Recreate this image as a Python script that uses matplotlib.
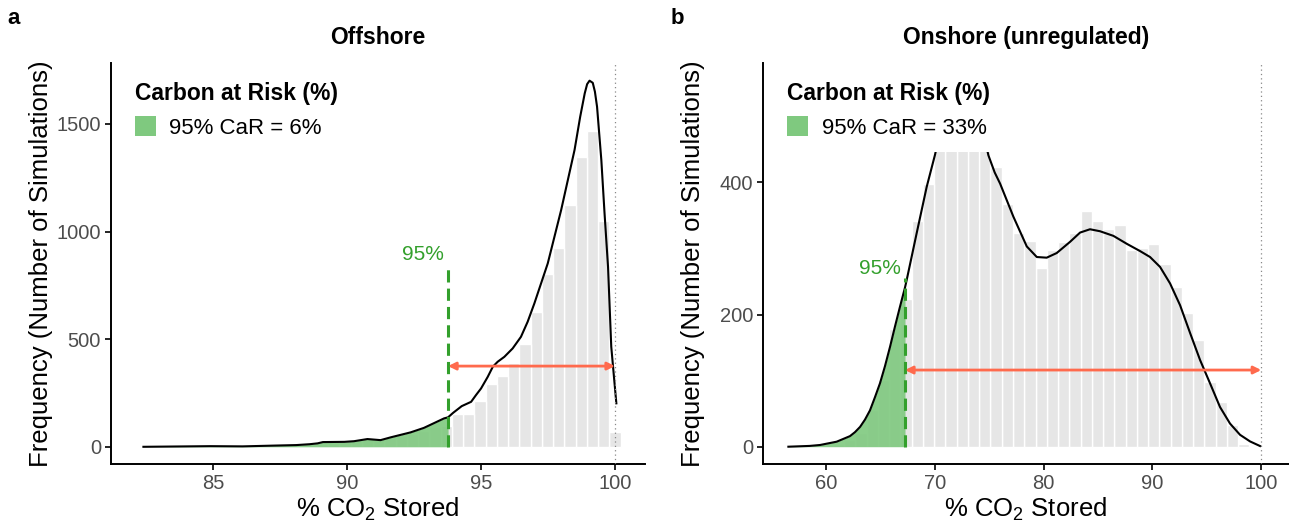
import numpy as np
import matplotlib.pyplot as plt
from matplotlib.patches import Patch

plt.rcParams['font.family'] = ['Liberation Sans', 'DejaVu Sans']
plt.rcParams['mathtext.default'] = 'regular'

# ---- offshore (panel a) ----
off_binw = 0.42
off_centers = 100 - off_binw * np.arange(43)
off_counts = [70, 1049, 1468, 1346, 1122, 924, 804, 624, 477, 390, 330, 290, 215, 153, 153,
              98, 90, 75, 60, 50, 40, 30, 30, 25, 20, 18, 15, 10, 6, 5, 4,
              3, 2, 2, 1, 2, 1, 1, 0, 1, 0, 0, 1]
off_kx = [82.4, 84.9, 86.1, 87.4, 88.1, 88.6, 88.9, 89.1, 89.9, 90.26, 90.76, 91.25, 91.63,
          92.37, 92.87, 93.62, 93.77, 93.96, 94.28, 94.63, 94.81, 95.0, 95.25, 95.44, 95.62,
          95.87, 96.18, 96.49, 96.74, 96.99, 97.49, 97.99, 98.49, 98.7, 98.87, 98.96, 99.05,
          99.17, 99.25, 99.33, 99.49, 99.61, 99.74, 99.86, 100.05]
off_ky = [0, 3, 2, 6, 8, 12, 16, 22, 23, 26, 36, 31, 44,
          67, 88, 132, 137, 158, 189, 209, 240, 271, 325, 372, 395,
          418, 457, 511, 581, 666, 852, 1100, 1379, 1533, 1642, 1685, 1701,
          1691, 1650, 1580, 1332, 1084, 836, 465, 202]
off_q = 93.77
off_car = 6

# ---- onshore (panel b) ----
on_binw = 1.035
on_centers = 98.40 - on_binw * np.arange(41)
on_counts = [4, 33, 68, 98, 162, 202, 241, 276, 306, 300, 297, 336, 330, 341, 356, 324,
             309, 297, 271, 311, 324, 367, 423, 450, 495, 520, 505, 480, 398, 342, 224,
             178, 101, 55, 21, 10, 4, 2, 1, 0, 0]
on_kx = [56.54, 58.5, 59.45, 60.98, 62.2, 62.66, 63.13, 63.58, 64.04, 64.5, 64.96, 65.42,
         65.88, 66.34, 66.8, 67.26, 67.41, 68.33,
         69.25, 70.02, 70.5, 71.0, 71.5, 72.0, 72.5, 73.0, 73.5, 74.0, 74.5, 74.92, 75.5,
         76.0, 77.22, 78.45, 79.37, 80.28, 81.2, 82.43, 83.35, 84.26, 85.18, 86.41, 87.64,
         88.86, 89.78, 90.7, 91.62, 92.54, 93.46, 94.38, 95.29, 96.21, 97.13, 98.05, 98.97, 99.89]
on_ky = [0, 1.2, 2.6, 7.6, 16, 22, 30, 41, 55, 75, 96, 122,
         151, 182, 212, 241, 252, 323,
         393, 442, 478, 508, 530, 545, 550, 546, 532, 505, 472, 441, 415,
         398, 348, 303, 287, 286, 293, 310, 324, 329, 326, 319, 307,
         296, 287, 272, 247, 214, 172, 131, 96, 60, 35, 18, 8, 1]
on_q = 67.26
on_car = 33

green = '#7FC97F'
dgreen = '#33A02C'
arrow_col = '#FF6A4D'

fig = plt.figure(figsize=(12.89, 5.27), dpi=100)
axa = fig.add_axes([0.0859, 0.1195, 0.4145, 0.7609])
axb = fig.add_axes([0.5917, 0.1195, 0.4083, 0.7609])


def panel(ax, centers, counts, binw, kx, ky, q, car, qtop, arrow_y, title,
          xlim, ylim, xticks, yticks, leg_x):
    kx = np.array(kx)
    ky = np.array(ky)
    ax.bar(centers, counts, width=binw, color='#E6E6E6', edgecolor='white',
           linewidth=1, zorder=1)
    m = kx <= q
    ax.fill_between(kx[m], ky[m], color=green, alpha=0.9, lw=0, zorder=2)
    ax.plot(kx, ky, color='black', lw=1.5, zorder=3, solid_joinstyle='round')
    ax.axvline(100, color='#888888', ls=(0, (1, 2.5)), lw=0.9, zorder=4)
    ax.plot([q, q], [0, qtop], color=dgreen, lw=2.2, dashes=(4, 2), zorder=4)
    ax.text(q - (xlim[1] - xlim[0]) * 0.008, qtop, '95%', color=dgreen, fontsize=15,
            ha='right', va='bottom')
    ax.annotate('', xy=(100, arrow_y), xytext=(q, arrow_y),
                arrowprops=dict(arrowstyle='<|-|>', color=arrow_col, lw=2,
                                mutation_scale=11, shrinkA=0, shrinkB=0), zorder=4)

    ax.set_xlim(xlim)
    ax.set_ylim(ylim)
    ax.set_xticks(xticks)
    ax.set_yticks(yticks)
    ax.tick_params(labelsize=14.5, labelcolor='#4D4D4D', length=4, width=1.2, pad=3)
    for s in ['top', 'right']:
        ax.spines[s].set_visible(False)
    for s in ['left', 'bottom']:
        ax.spines[s].set_linewidth(1.4)
    ax.set_title(title, fontsize=16.5, fontweight='bold', pad=14)
    ax.set_xlabel('% CO$_2$ Stored', fontsize=18.5, labelpad=2)
    ax.set_ylabel('Frequency (Number of Simulations)', fontsize=18.5)

    leg = ax.legend(handles=[Patch(facecolor=green, edgecolor='none',
                                   label=f'95% CaR = {car}%')],
                    title='Carbon at Risk (%)', loc='upper left',
                    bbox_to_anchor=(leg_x, 0.985), fontsize=16,
                    title_fontproperties={'weight': 'bold', 'size': 16.5},
                    alignment='left', handlelength=0.95, handleheight=1.0,
                    handletextpad=0.6, borderpad=0.6, borderaxespad=0,
                    frameon=True, facecolor='white', edgecolor='none',
                    framealpha=1, fancybox=False)
    leg.set_zorder(6)


panel(axa, off_centers, off_counts, off_binw, off_kx, off_ky, off_q, off_car, 850, 375,
      'Offshore', (81.18, 101.12), (-80, 1783), [85, 90, 95, 100], [0, 500, 1000, 1500], 0.02)
panel(axb, on_centers, on_counts, on_binw, on_kx, on_ky, on_q, on_car, 255, 116,
      'Onshore (unregulated)', (54.18, 102.55), (-26.2, 580.5), [60, 70, 80, 90, 100],
      [0, 200, 400], 0.021)

axa.yaxis.set_label_coords(-0.108, 0.5)
axb.yaxis.set_label_coords(-0.11, 0.5)

fig.text(0.006, 0.965, 'a', fontsize=16, fontweight='bold', va='center')
fig.text(0.52, 0.965, 'b', fontsize=16, fontweight='bold', va='center')

fig.savefig('out.png', dpi=100)
